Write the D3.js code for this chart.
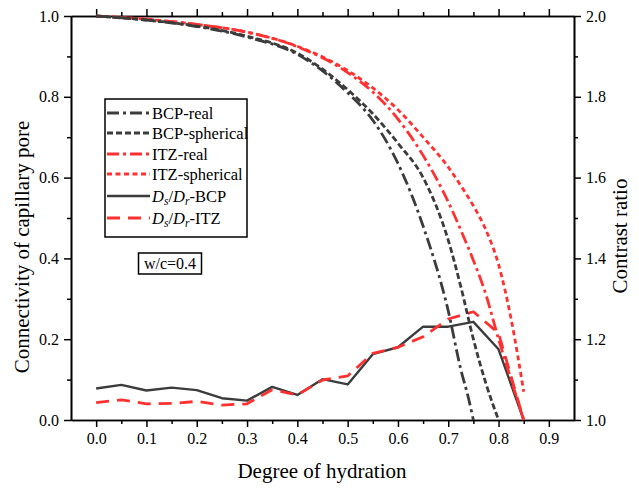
<!DOCTYPE html>
<html>
<head>
<meta charset="utf-8">
<script src="https://cdn.jsdelivr.net/npm/d3@7"></script>
<style>
  html, body { margin: 0; padding: 0; background: #fff; }
  svg { display: block; }
  svg text { font-family: "Liberation Serif", "Times New Roman", "DejaVu Serif", serif; }
</style>
</head>
<body>
<svg id="chart" width="639" height="490"></svg>
<script>
// Connectivity of capillary pore vs degree of hydration (left axis)
const bcpRealX = [0, 0.1, 0.2, 0.3, 0.4, 0.5, 0.55, 0.6, 0.65, 0.7, 0.725, 0.74, 0.75];
const bcpRealY = [1.0, 0.99, 0.974, 0.948, 0.905, 0.81, 0.742, 0.635, 0.48, 0.27, 0.125, 0.055, 0.0];

const bcpSphX = [0, 0.1, 0.2, 0.3, 0.4, 0.5, 0.55, 0.6, 0.65, 0.7, 0.725, 0.75, 0.775, 0.8];
const bcpSphY = [1.0, 0.99, 0.975, 0.95, 0.908, 0.818, 0.758, 0.685, 0.6, 0.445, 0.33, 0.2, 0.09, 0.0];

const itzRealX = [0, 0.1, 0.2, 0.3, 0.4, 0.5, 0.55, 0.6, 0.65, 0.7, 0.725, 0.75, 0.775, 0.8, 0.825, 0.85];
const itzRealY = [1.0, 0.992, 0.979, 0.96, 0.924, 0.86, 0.812, 0.745, 0.655, 0.54, 0.47, 0.395, 0.31, 0.2, 0.1, 0.0];

const itzSphX = [0, 0.1, 0.2, 0.3, 0.4, 0.5, 0.55, 0.6, 0.65, 0.7, 0.725, 0.75, 0.775, 0.8, 0.825, 0.85];
const itzSphY = [1.0, 0.992, 0.979, 0.96, 0.925, 0.865, 0.822, 0.768, 0.7, 0.626, 0.58, 0.53, 0.47, 0.385, 0.25, 0.07];

// Contrast ratio Ds/Dr (right axis)
const ratioX = [0, 0.05, 0.1, 0.15, 0.2, 0.25, 0.3, 0.35, 0.4, 0.45, 0.5, 0.55, 0.6, 0.65, 0.7, 0.75, 0.8, 0.85];
const ratioBCP = [1.078, 1.087, 1.073, 1.080, 1.074, 1.054, 1.048, 1.082, 1.062, 1.101, 1.088, 1.163, 1.180, 1.231, 1.231, 1.243, 1.175, 1.0];
const ratioITZ = [1.043, 1.050, 1.040, 1.041, 1.046, 1.037, 1.040, 1.075, 1.062, 1.099, 1.109, 1.165, 1.180, 1.206, 1.250, 1.268, 1.215, 1.0];

// Tick values
const xTicks = [0.0, 0.1, 0.2, 0.3, 0.4, 0.5, 0.6, 0.7, 0.8, 0.9];
const xMinor = [0.05, 0.15, 0.25, 0.35, 0.45, 0.55, 0.65, 0.75, 0.85];
const yTicks = [0.0, 0.2, 0.4, 0.6, 0.8, 1.0];
const yMinor = [0.1, 0.3, 0.5, 0.7, 0.9];
const y2Ticks = [1.0, 1.2, 1.4, 1.6, 1.8, 2.0];
const y2Minor = [1.1, 1.3, 1.5, 1.7, 1.9];

const GRAY = "#3c3c3c";
const RED = "#ff3030";
const SERIF = "Liberation Serif, Times New Roman, serif";

const svg = d3.select("#chart");
const L = 71, R = 574, T = 16, B = 420;

const x = d3.scaleLinear().domain([-0.05, 0.95]).range([L, R]);
const y = d3.scaleLinear().domain([0, 1]).range([B, T]);
const y2 = d3.scaleLinear().domain([1, 2]).range([B, T]);

const fmt = d3.format(".1f");

function styleAxis(g) {
  g.attr("font-family", SERIF);
  g.select(".domain").attr("stroke", "#000").attr("stroke-width", 1.6);
  g.selectAll(".tick line").attr("stroke", "#000").attr("stroke-width", 1.5);
  g.selectAll(".tick text").attr("fill", "#000").attr("font-size", 16);
}

// Bottom axis
svg.append("g").attr("transform", `translate(0,${B})`)
  .call(d3.axisBottom(x).tickValues(xTicks).tickFormat(fmt).tickSize(7).tickSizeOuter(0).tickPadding(6))
  .call(styleAxis);
svg.append("g").attr("transform", `translate(0,${B})`)
  .call(d3.axisBottom(x).tickValues(xMinor).tickFormat("").tickSize(4).tickSizeOuter(0))
  .call(styleAxis);
// Top axis
svg.append("g").attr("transform", `translate(0,${T})`)
  .call(d3.axisTop(x).tickValues(xTicks).tickFormat("").tickSize(7).tickSizeOuter(0))
  .call(styleAxis);
svg.append("g").attr("transform", `translate(0,${T})`)
  .call(d3.axisTop(x).tickValues(xMinor).tickFormat("").tickSize(4).tickSizeOuter(0))
  .call(styleAxis);
// Left axis
svg.append("g").attr("transform", `translate(${L},0)`)
  .call(d3.axisLeft(y).tickValues(yTicks).tickFormat(fmt).tickSize(7).tickSizeOuter(0).tickPadding(5))
  .call(styleAxis);
svg.append("g").attr("transform", `translate(${L},0)`)
  .call(d3.axisLeft(y).tickValues(yMinor).tickFormat("").tickSize(4).tickSizeOuter(0))
  .call(styleAxis);
// Right axis
svg.append("g").attr("transform", `translate(${R},0)`)
  .call(d3.axisRight(y2).tickValues(y2Ticks).tickFormat(fmt).tickSize(7).tickSizeOuter(0).tickPadding(5))
  .call(styleAxis);
svg.append("g").attr("transform", `translate(${R},0)`)
  .call(d3.axisRight(y2).tickValues(y2Minor).tickFormat("").tickSize(4).tickSizeOuter(0))
  .call(styleAxis);

// Axis titles
svg.append("text").attr("x", 322).attr("y", 478).attr("text-anchor", "middle")
  .attr("font-size", 21).text("Degree of hydration");
svg.append("text").attr("transform", `translate(29,247) rotate(-90)`)
  .attr("text-anchor", "middle").attr("font-size", 21).text("Connectivity of capillary pore");
svg.append("text").attr("transform", `translate(627,236) rotate(-90)`)
  .attr("text-anchor", "middle").attr("font-size", 21).text("Contrast ratio");

// Series definitions
const DASHDOT = "12,4,3,4";
const SHORTDASH = "6,3";
const REDSHORT = "5,3.5";
const LONGDASH = "13,8";

const series = [
  { name: "BCP-real", xs: bcpRealX, ys: bcpRealY, scale: y, color: GRAY, dash: DASHDOT, w: 2.8 },
  { name: "BCP-spherical", xs: bcpSphX, ys: bcpSphY, scale: y, color: GRAY, dash: SHORTDASH, w: 2.8 },
  { name: "ITZ-real", xs: itzRealX, ys: itzRealY, scale: y, color: RED, dash: DASHDOT, w: 2.8 },
  { name: "ITZ-spherical", xs: itzSphX, ys: itzSphY, scale: y, color: RED, dash: REDSHORT, w: 2.8 },
  { name: "BCP", xs: ratioX, ys: ratioBCP, scale: y2, color: GRAY, dash: null, w: 2.4, straight: true },
  { name: "ITZ", xs: ratioX, ys: ratioITZ, scale: y2, color: RED, dash: LONGDASH, w: 2.8, straight: true }
];

const plot = svg.append("g");
// ratio curves first, connectivity curves on top
[4, 5, 3, 2, 1, 0].forEach(i => {
  const s = series[i];
  const pts = s.xs.map((v, k) => [v, s.ys[k]]);
  const line = d3.line()
    .x(d => x(d[0]))
    .y(d => s.scale(d[1]))
    .curve(s.straight ? d3.curveLinear : d3.curveMonotoneX);
  plot.append("path").datum(pts)
    .attr("d", line)
    .attr("fill", "none")
    .attr("stroke", s.color)
    .attr("stroke-width", s.w)
    .attr("stroke-dasharray", s.dash)
    .attr("stroke-linejoin", "round");
});

// Legend
const lg = svg.append("g");
lg.append("rect").attr("x", 105).attr("y", 99).attr("width", 142).attr("height", 138)
  .attr("fill", "#fff").attr("stroke", "#000").attr("stroke-width", 1.5);
const rowsY = [113, 133, 154, 174, 196, 218];
series.forEach((s, i) => {
  const yy = rowsY[i];
  lg.append("line").attr("x1", 107).attr("x2", 150).attr("y1", yy).attr("y2", yy)
    .attr("stroke", s.color).attr("stroke-width", s.w)
    .attr("stroke-dasharray", s.dash);
  const t = lg.append("text").attr("x", 152).attr("y", yy + 5.5).attr("font-size", 16.5).attr("fill", "#000");
  if (i < 4) {
    t.text(s.name);
  } else {
    t.append("tspan").attr("font-style", "italic").text("D");
    t.append("tspan").attr("font-style", "italic").attr("font-size", 11.5).attr("dy", 3).text("s");
    t.append("tspan").attr("dy", -3).text("/");
    t.append("tspan").attr("font-style", "italic").text("D");
    t.append("tspan").attr("font-style", "italic").attr("font-size", 11.5).attr("dy", 3).text("r");
    t.append("tspan").attr("dy", -3).text("-" + s.name);
  }
});

// Mix ratio annotation
svg.append("rect").attr("x", 138.5).attr("y", 253).attr("width", 63).attr("height", 21)
  .attr("fill", "#fff").attr("stroke", "#000").attr("stroke-width", 1.5);
svg.append("text").attr("x", 170).attr("y", 269).attr("text-anchor", "middle")
  .attr("font-size", 16).text("w/c=0.4");
</script>
</body>
</html>
